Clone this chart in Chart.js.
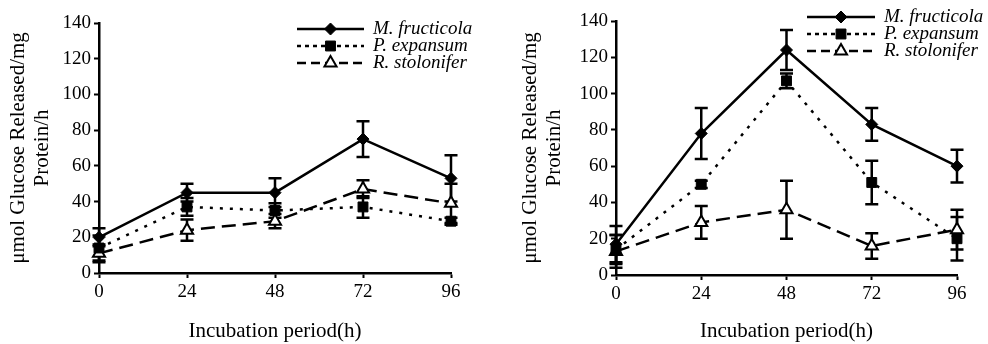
<!DOCTYPE html>
<html>
<head>
<meta charset="utf-8">
<script src="https://cdn.jsdelivr.net/npm/chart.js@4"></script>
<style>
body { margin: 0; background: #fff; }
#wrap { display: flex; width: 988px; height: 344px; }
canvas { display: block; }
</style>
</head>
<body>
<div id="wrap">
  <canvas id="chartLeft" width="494" height="344"></canvas>
  <canvas id="chartRight" width="494" height="344"></canvas>
</div>
<script>
const hours = [0, 24, 48, 72, 96];
const xTicks = [0, 24, 48, 72, 96];
const seriesNames = ['M. fructicola', 'P. expansum', 'R. stolonifer'];

// left panel
const leftFructicola = [20, 45, 45, 75, 53];
const leftFructicolaErr = [5, 5, 8, 10, 13];
const leftExpansum = [14, 37, 35, 37, 29];
const leftExpansumErr = [7, 5, 4, 6, 2];
const leftStolonifer = [11, 24, 29, 47, 39];
const leftStoloniferErr = [5, 6, 4, 5, 11];

// right panel
const rightFructicola = [17, 78, 124, 83, 60];
const rightFructicolaErr = [10, 14, 11, 9, 9];
const rightExpansum = [14, 50, 107, 51, 20];
const rightExpansumErr = [8, 2, 4, 12, 12];
const rightStolonifer = [13, 29, 36, 16, 25];
const rightStoloniferErr = [9, 9, 16, 7, 11];

const serif = 'Liberation Serif, Times New Roman, serif';

// vertical error bars with caps, drawn under the markers
const errorBars = {
  id: 'errorBars',
  beforeDatasetsDraw(chart) {
    const ctx = chart.ctx;
    const ys = chart.scales.y;
    ctx.save();
    ctx.strokeStyle = '#000';
    ctx.lineWidth = 2.5;
    chart.data.datasets.forEach((ds, i) => {
      chart.getDatasetMeta(i).data.forEach((pt, j) => {
        const v = ds.data[j].y, e = ds.errors[j];
        const top = ys.getPixelForValue(v + e);
        const bot = ys.getPixelForValue(Math.max(v - e, 0));
        ctx.beginPath();
        ctx.moveTo(pt.x, top); ctx.lineTo(pt.x, bot);
        ctx.moveTo(pt.x - 6.5, top); ctx.lineTo(pt.x + 6.5, top);
        ctx.moveTo(pt.x - 6.5, bot); ctx.lineTo(pt.x + 6.5, bot);
        ctx.stroke();
      });
    });
    ctx.restore();
  }
};

// legend with line sample + marker, as in the figure
const lineLegend = {
  id: 'lineLegend',
  afterDraw(chart, args, opts) {
    const ctx = chart.ctx;
    chart.data.datasets.forEach((ds, i) => {
      const yy = opts.y + i * opts.gap;
      ctx.save();
      ctx.strokeStyle = '#000';
      ctx.lineWidth = 2.5;
      ctx.setLineDash(ds.legendDash);
      ctx.beginPath();
      ctx.moveTo(opts.x, yy);
      ctx.lineTo(opts.x + opts.len, yy);
      ctx.stroke();
      ctx.setLineDash([]);
      ctx.fillStyle = ds.pointBackgroundColor;
      ctx.lineWidth = ds.pointBorderWidth;
      Chart.helpers.drawPoint(ctx, {
        pointStyle: ds.pointStyle, radius: ds.pointRadius,
        borderWidth: ds.pointBorderWidth, rotation: 0
      }, opts.x + opts.len / 2, yy);
      ctx.fillStyle = '#000';
      ctx.font = 'italic 19px ' + serif;
      ctx.textBaseline = 'middle';
      ctx.textAlign = 'left';
      ctx.fillText(ds.label, opts.x + opts.len + 9, yy);
      ctx.restore();
    });
  }
};

function pts(vals) {
  return hours.map((h, i) => ({ x: h, y: vals[i] }));
}

function makeChart(id, mf, mfErr, pe, peErr, rs, rsErr, lay) {
  const axisGrid = { display: true, drawOnChartArea: false, drawTicks: true, tickLength: 5, tickWidth: 2, tickColor: '#000' };
  const axisBorder = { display: true, color: '#000', width: 2.5 };
  return new Chart(document.getElementById(id).getContext('2d'), {
    type: 'line',
    data: {
      datasets: [{
        label: seriesNames[0],
        data: pts(mf), errors: mfErr,
        borderColor: '#000', borderWidth: 2.5, borderDash: [], legendDash: [],
        pointStyle: 'rectRot', pointRadius: 6,
        pointBackgroundColor: '#000', pointBorderColor: '#000', pointBorderWidth: 1
      }, {
        label: seriesNames[1],
        data: pts(pe), errors: peErr,
        borderColor: '#000', borderWidth: 2.5, borderDash: [3, 7], legendDash: [4, 4],
        pointStyle: 'rect', pointRadius: 7,
        pointBackgroundColor: '#000', pointBorderColor: '#000', pointBorderWidth: 1
      }, {
        label: seriesNames[2],
        data: pts(rs), errors: rsErr,
        borderColor: '#000', borderWidth: 2.5, borderDash: [14, 7], legendDash: [9, 5],
        pointStyle: 'triangle', pointRadius: 7,
        pointBackgroundColor: '#fff', pointBorderColor: '#000', pointBorderWidth: 2
      }]
    },
    options: {
      responsive: false,
      animation: false,
      devicePixelRatio: 1,
      clip: false,
      layout: { padding: { top: lay.top, right: lay.right, left: 0, bottom: 0 } },
      scales: {
        x: {
          type: 'linear', min: 0, max: 96,
          afterBuildTicks: s => { s.ticks = xTicks.map(v => ({ value: v })); },
          ticks: { color: '#000', font: { family: serif, size: 19 }, padding: 3, maxRotation: 0 },
          grid: axisGrid,
          border: axisBorder,
          title: { display: true, text: 'Incubation period(h)', color: '#000',
                   font: { family: serif, size: 21 }, padding: { top: 0, bottom: 0 } },
          afterFit: s => { s.height = lay.xh; }
        },
        y: {
          min: 0, max: 140,
          ticks: { stepSize: 20, color: '#000', font: { family: serif, size: 19 }, padding: 3 },
          grid: axisGrid,
          border: axisBorder,
          title: { display: true, text: ['μmol Glucose Released/mg', 'Protein/h'], color: '#000',
                   font: { family: serif, size: 21, lineHeight: 1.17 }, padding: { top: lay.tpad, bottom: 0 } },
          afterFit: s => { s.width = lay.yw; }
        }
      },
      plugins: {
        legend: { display: false },
        tooltip: { enabled: false },
        lineLegend: lay.legend
      }
    },
    plugins: [errorBars, lineLegend]
  });
}

makeChart('chartLeft', leftFructicola, leftFructicolaErr, leftExpansum, leftExpansumErr,
  leftStolonifer, leftStoloniferErr,
  { top: 23, right: 43, yw: 99, xh: 71, tpad: 6, legend: { x: 297, y: 29, gap: 17, len: 67 } });

makeChart('chartRight', rightFructicola, rightFructicolaErr, rightExpansum, rightExpansumErr,
  rightStolonifer, rightStoloniferErr,
  { top: 21, right: 31, yw: 122, xh: 69, tpad: 24, legend: { x: 313, y: 17, gap: 17, len: 68 } });
</script>
</body>
</html>
